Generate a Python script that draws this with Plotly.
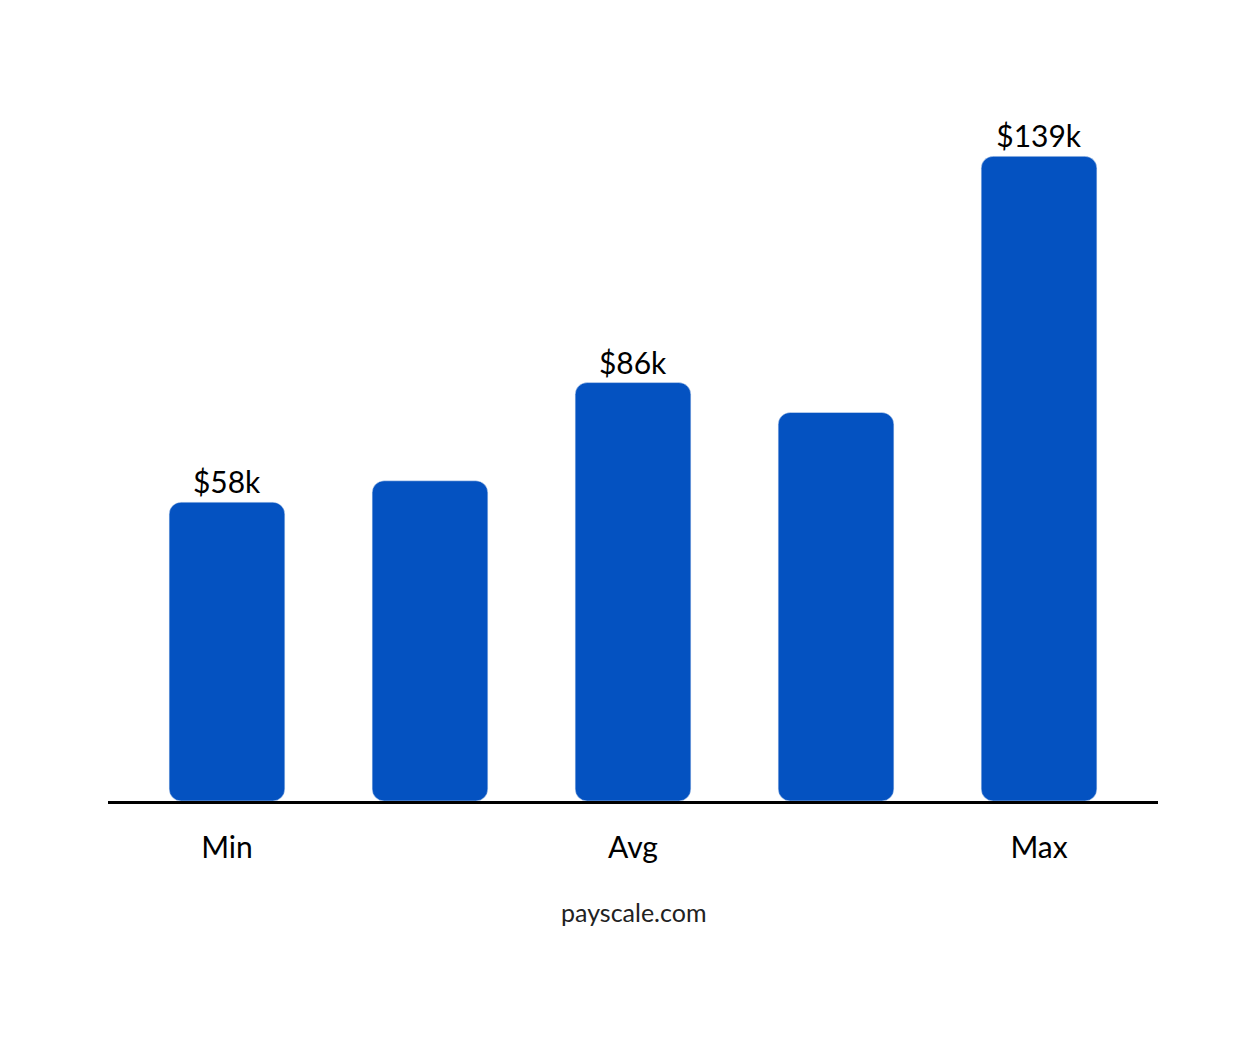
import plotly.graph_objects as go

categories = ["p0", "p1", "p2", "p3", "p4"]
values = [58, 63, 86, 79, 139]  # thousands USD
bar_labels = ["$58k", "", "$86k", "", "$139k"]
tick_labels = ["Min", "", "Avg", "", "Max"]
floor = -12

fig = go.Figure(go.Bar(
    x=list(range(len(categories))),
    y=[v - floor for v in values],
    base=floor,
    text=bar_labels,
    textposition="outside",
    textfont=dict(size=30, color="black", family="Lato"),
    marker=dict(color="#0452C1", cornerradius=12),
    cliponaxis=False,
))

fig.update_layout(
    width=1250, height=1042,
    margin=dict(l=100, r=100, t=80, b=249),
    paper_bgcolor="white", plot_bgcolor="white",
    bargap=0.43, showlegend=False,
    xaxis=dict(range=[-0.586, 4.586], tickvals=list(range(5)), ticktext=tick_labels,
               tickfont=dict(size=30, color="black", family="Lato"),
               showline=True, linecolor="black", linewidth=3, ticks="", showgrid=False,
               ticklabelstandoff=18),
    yaxis=dict(range=[floor, 155], visible=False, showgrid=False),
    annotations=[dict(text="payscale.com", x=0.5, y=921, xref="paper", yref="paper",
                      showarrow=False, font=dict(size=25, color="#222", family="Lato"))],
)
fig.layout.annotations[0].update(yref="paper", y=(1042 - 249 - 921) / (1042 - 80 - 249))

fig.write_html("out.html")
